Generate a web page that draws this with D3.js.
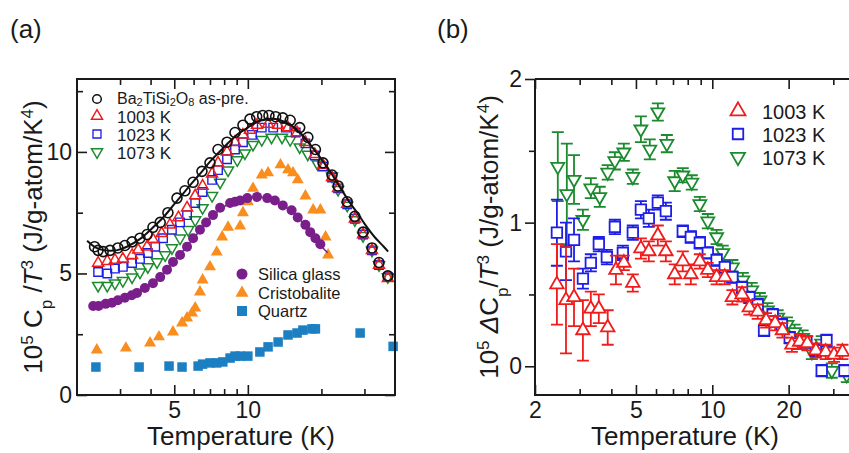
<!DOCTYPE html>
<html><head><meta charset="utf-8">
<script src="https://cdn.jsdelivr.net/npm/d3@7"></script>
<style>
body{margin:0;background:#fff}
svg{display:block}
text{white-space:pre}
</style></head><body>
<svg id="c" width="849" height="453"></svg>
<script>
// ---------- Panel (a) data : [T (K), 1e5 Cp/T^3] ----------
const asPre = [[2.36,6.1],[2.44,5.95],[2.56,5.9],[2.73,5.95],[2.94,6.05],[3.14,6.15],[3.36,6.3],[3.62,6.45],[3.87,6.6],[4.09,6.9],[4.38,7.1],[4.71,7.5],[5.13,8.1],[5.53,8.4],[5.97,8.75],[6.49,9.2],[7.0,9.55],[7.55,10.1],[8.22,10.4],[8.86,10.8],[9.55,11.1],[10.2,11.35],[10.87,11.45],[11.5,11.5],[12.2,11.5],[13.0,11.45],[13.9,11.4],[14.9,11.3],[16.3,11.0],[17.6,10.6],[18.9,10.1],[20.3,9.55],[22.1,9.05],[23.4,8.6],[25.5,7.95],[27.4,7.35],[29.6,6.7],[32.2,6.05],[34.4,5.45],[37.4,4.9]];
const asPreFit = [[2.2,6.35],[2.4,6.05],[2.6,5.95],[2.9,5.95],[3.2,6.1],[3.6,6.4],[4.0,6.8],[4.5,7.3],[5.0,7.85],[5.5,8.35],[6.0,8.8],[6.5,9.2],[7.0,9.6],[8.0,10.2],[9.0,10.7],[10.0,11.0],[11.0,11.25],[12.0,11.35],[13.0,11.35],[14.0,11.25],[15.0,11.1],[16.5,10.75],[18.0,10.3],[20.0,9.7],[22.0,9.1],[24.0,8.5],[26.0,7.95],[28.0,7.5],[30.0,7.05],[33.0,6.5],[36.0,6.1],[37.5,5.9]];
const a1003 = [[2.44,5.43],[2.66,5.5],[2.86,5.55],[3.08,5.6],[3.36,5.75],[3.56,5.97],[3.87,6.1],[4.09,6.4],[4.44,6.65],[4.8,7.0],[5.2,7.3],[5.64,7.7],[6.09,8.2],[6.53,8.6],[7.14,9.1],[7.55,9.55],[8.22,10.0],[8.86,10.4],[9.55,10.7],[10.2,10.9],[10.9,11.1],[12.1,11.15],[13.3,11.1],[14.6,11.0],[15.9,10.8],[17.2,10.4],[18.8,9.9],[20.3,9.45],[22.1,8.95],[23.4,8.5],[25.5,7.85],[27.4,7.25],[29.6,6.6],[32.2,5.95],[34.4,5.35],[37.4,4.8]];
const a1023 = [[2.44,5.06],[2.66,5.0],[2.86,5.2],[3.08,5.27],[3.36,5.43],[3.62,5.6],[3.9,5.84],[4.18,6.1],[4.5,6.45],[4.89,6.8],[5.28,7.1],[5.64,7.4],[6.09,7.9],[6.53,8.35],[7.14,8.85],[7.55,9.25],[8.22,9.7],[8.86,10.1],[9.55,10.4],[10.4,10.7],[11.4,11.0],[12.7,11.0],[14.3,11.0],[15.7,10.8],[17.2,10.35],[18.8,9.85],[20.3,9.4],[22.1,8.95],[23.4,8.5],[25.5,7.85],[27.4,7.25],[29.6,6.6],[32.2,5.95],[34.4,5.35],[37.4,4.85]];
const a1073 = [[2.44,4.5],[2.66,4.5],[2.86,4.6],[3.08,4.7],[3.36,4.85],[3.62,5.05],[3.9,5.27],[4.25,5.47],[4.59,5.76],[4.89,6.05],[5.28,6.45],[5.7,6.8],[6.09,7.2],[6.53,7.7],[7.14,8.2],[7.7,8.75],[8.3,9.25],[9.05,9.67],[9.73,9.95],[10.5,10.3],[11.4,10.5],[12.5,10.6],[13.8,10.6],[14.9,10.5],[16.3,10.2],[17.6,9.9],[19.3,9.5],[22.1,9.0],[23.4,8.45],[25.5,7.8],[27.4,7.2],[29.6,6.55],[32.2,5.95],[34.4,5.35],[37.4,4.86]];
const silica = [[2.33,3.66],[2.45,3.66],[2.62,3.75],[2.78,3.8],[2.94,3.9],[3.14,4.0],[3.35,4.1],[3.52,4.2],[3.79,4.4],[4.09,4.6],[4.38,4.85],[4.67,5.15],[4.94,5.47],[5.28,5.76],[5.64,6.1],[5.97,6.45],[6.37,6.8],[6.75,7.1],[7.2,7.4],[7.7,7.7],[8.46,7.9],[8.86,7.95],[9.3,8.0],[9.95,8.1],[10.9,8.15],[12.0,8.1],[12.9,8.0],[13.9,7.8],[15.1,7.6],[16.0,7.3],[17.2,7.0],[18.0,6.7],[18.9,6.45],[19.8,6.2]];
const silicaFit = [[2.25,3.62],[2.5,3.66],[3,3.92],[3.5,4.22],[4,4.55],[4.5,5.0],[5,5.5],[5.5,6.0],[6,6.45],[7,7.25],[8,7.75],[9,8.0],[10,8.12],[11,8.15],[12,8.1],[13,7.98],[14,7.8],[15,7.57],[16,7.3],[17,7.03],[18,6.72],[19,6.42],[20,6.12],[21.2,5.85]];
const cristobalite = [[2.41,1.85],[3.17,1.93],[3.98,2.14],[4.33,2.39],[4.94,2.59],[5.38,2.96],[5.64,3.17],[5.91,3.37],[6.09,3.58],[6.37,4.24],[6.53,4.73],[7.0,5.27],[7.46,5.88],[7.85,6.5],[8.3,6.9],[9.3,6.95],[9.55,7.5],[10.0,7.95],[10.5,8.5],[11.4,9.05],[12.1,9.14],[13.6,9.47],[14.6,9.26],[15.3,9.14],[16.0,8.85],[17.2,8.19],[18.5,7.61],[19.8,7.61],[20.8,6.5],[21.3,5.76]];
const quartz = [[2.39,1.15],[3.59,1.15],[4.76,1.19],[5.38,1.15],[6.26,1.19],[6.53,1.27],[7.0,1.32],[7.46,1.32],[7.9,1.36],[8.46,1.52],[8.86,1.6],[9.3,1.6],[10.0,1.6],[11.2,1.77],[12.1,1.98],[13.3,2.18],[14.6,2.47],[15.9,2.55],[16.8,2.67],[18.3,2.72],[18.9,2.72],[28.8,2.55],[39.3,2.0]];

// ---------- Panel (b) data : [T (K), 1e5 dCp/T^3, error] ----------
const b1073 = [[2.46,1.39,0.24],[2.67,1.2,0.35],[2.85,1.3,0.17],[3.09,1.02,0.07],[3.32,1.24,0.07],[3.6,1.18,0.07],[3.87,1.35,0.05],[4.13,1.43,0.06],[4.48,1.49,0.06],[4.86,1.32,0.05],[5.23,1.65,0.09],[5.67,1.51,0.07],[6.1,1.77,0.06],[6.62,1.55,0.06],[7.11,1.29,0.07],[7.65,1.33,0.05],[8.3,1.28,0.05],[8.93,1.13,0.05],[9.6,1.01,0.05],[10.4,0.9,0.05],[11.0,0.79,0.05],[12.0,0.69,0.05],[13.2,0.6,0.05],[14.3,0.53,0.05],[15.4,0.46,0.05],[16.5,0.39,0.05],[18.1,0.34,0.05],[19.7,0.29,0.05],[21.1,0.24,0.05],[22.7,0.2,0.05],[24.7,0.1,0.05],[27.0,0.16,0.05],[29.6,-0.03,0.05],[33.9,-0.06,0.05]];
const b1023 = [[2.44,0.93,0.23],[2.65,0.8,0.2],[2.85,0.88,0.15],[3.09,0.61,0.07],[3.32,0.72,0.06],[3.57,0.85,0.05],[3.84,0.76,0.05],[4.13,0.97,0.05],[4.44,0.79,0.05],[4.86,0.93,0.05],[5.23,1.09,0.06],[5.62,1.03,0.06],[6.1,1.14,0.05],[6.56,1.08,0.06],[7.65,0.94,0.04],[8.23,0.9,0.04],[8.93,0.86,0.04],[9.6,0.79,0.04],[10.4,0.74,0.04],[11.2,0.69,0.04],[12.0,0.62,0.04],[13.1,0.55,0.04],[14.0,0.48,0.04],[15.1,0.43,0.04],[16.0,0.25,0.04],[17.3,0.36,0.04],[18.8,0.29,0.04],[20.2,0.2,0.04],[21.7,0.16,0.04],[23.5,0.17,0.04],[25.6,0.11,0.04],[27.0,-0.03,0.04],[28.2,0.18,0.04],[33.2,-0.03,0.04]];
const b1003 = [[2.44,0.57,0.28],[2.65,0.46,0.37],[2.85,0.48,0.2],[3.09,0.25,0.21],[3.32,0.4,0.12],[3.57,0.4,0.1],[3.87,0.27,0.12],[4.17,0.67,0.1],[4.48,0.72,0.05],[4.86,0.58,0.06],[5.23,0.82,0.07],[5.62,0.8,0.07],[6.1,0.91,0.07],[6.56,0.8,0.07],[7.11,0.64,0.07],[7.65,0.73,0.07],[8.23,0.64,0.07],[8.93,0.73,0.05],[9.6,0.67,0.05],[10.4,0.62,0.05],[11.2,0.62,0.05],[12.0,0.48,0.05],[13.1,0.5,0.05],[14.0,0.41,0.05],[15.1,0.38,0.05],[16.3,0.32,0.05],[17.7,0.3,0.05],[18.9,0.25,0.05],[20.6,0.15,0.05],[22.1,0.17,0.05],[23.7,0.16,0.05],[25.6,0.11,0.05],[28.0,0.1,0.05],[30.2,0.08,0.05],[32.6,0.1,0.05]];

// ---------- ticks ----------
const aXMajor = [5, 10];
const aXMinor = [3, 4, 6, 7, 8, 9, 20, 30];
const aYMajor = [0, 5, 10];
const aYMinor = [2.5, 7.5, 12.5];
const bXMajor = [2, 5, 10, 20];
const bXMinor = [3, 4, 6, 7, 8, 9, 30];
const bYMajor = [0, 1, 2];
const bYMinor = [0.5, 1.5];

// ---------- styles ----------
const FONT = '"Liberation Sans", Arial, Helvetica, sans-serif';
const INK = "#1a1a1a";
const C = {black:"#111", red:"#f01c1c", blue:"#1e1ee8", green:"#1c8a2e", purple:"#7a1e8c", orange:"#f98d1e", quartz:"#1c7fc2"};

const svg = d3.select("#c").attr("font-family", FONT);

const xa = d3.scaleLog().domain([2, 40]).range([77, 395]);
const ya = d3.scaleLinear().domain([0, 13]).range([395, 79]);
const xb = d3.scaleLog().domain([2, 40]).range([535, 865]);
const yb = d3.scaleLinear().domain([-0.2, 2]).range([395, 79]);

function addAxis(orient, scale, pos, values, size, labels, pad, fs) {
  const mk = {bottom:d3.axisBottom, top:d3.axisTop, left:d3.axisLeft, right:d3.axisRight}[orient];
  const gen = mk(scale).tickValues(values).tickSize(size).tickPadding(pad || 0)
    .tickFormat(labels ? d3.format("~g") : () => "");
  const tr = (orient === "bottom" || orient === "top") ? `translate(0,${pos})` : `translate(${pos},0)`;
  const g = svg.append("g").attr("transform", tr).call(gen);
  g.select(".domain").remove();
  g.attr("font-family", FONT).attr("font-size", fs || 23).attr("color", INK);
  g.selectAll(".tick line").attr("stroke-width", 1.6);
  return g;
}

// symbol paths
const triUp = s => { const h = s * Math.sqrt(3) / 2; return `M0,${-2*h/3}L${s/2},${h/3}L${-s/2},${h/3}Z`; };
const triDn = s => { const h = s * Math.sqrt(3) / 2; return `M0,${2*h/3}L${s/2},${-h/3}L${-s/2},${-h/3}Z`; };
const sq = s => `M${-s/2},${-s/2}h${s}v${s}h${-s}Z`;
const circ = r => `M${r},0A${r},${r} 0 1,1 ${-r},0A${r},${r} 0 1,1 ${r},0Z`;

function marks(data, x, y, path, stroke, fill, sw) {
  svg.append("g").selectAll("path").data(data).join("path")
    .attr("transform", d => `translate(${x(d[0])},${y(d[1])})`)
    .attr("d", path)
    .attr("stroke", stroke).attr("fill", fill).attr("stroke-width", sw);
}
function errbars(data, x, y, color, cap) {
  const g = svg.append("g").attr("stroke", color).attr("stroke-width", 1.8).attr("fill", "none");
  g.selectAll("path").data(data).join("path")
    .attr("d", d => {
      const px = x(d[0]), y0 = y(d[1] - d[2]), y1 = y(d[1] + d[2]);
      return `M${px},${y0}V${y1}M${px-cap/2},${y0}h${cap}M${px-cap/2},${y1}h${cap}`;
    });
}

// ================= Panel (a) =================
addAxis("bottom", xa, 395, aXMajor, -10, true, 7);
addAxis("bottom", xa, 395, aXMinor, -6, false);
addAxis("top", xa, 79, aXMajor, -10, false);
addAxis("top", xa, 79, aXMinor, -6, false);
addAxis("left", ya, 77, aYMajor, -10, true, 5);
addAxis("left", ya, 77, aYMinor, -6, false);
addAxis("right", ya, 395, aYMajor, -10, false);
addAxis("right", ya, 395, aYMinor, -6, false);

const lineA = d3.line().x(d => xa(d[0])).y(d => ya(d[1])).curve(d3.curveCatmullRom);

marks(quartz, xa, ya, sq(9.5), "none", C.quartz, 0);
marks(cristobalite, xa, ya, triUp(12), "none", C.orange, 0);
svg.append("path").datum(silicaFit).attr("d", lineA).attr("fill", "none").attr("stroke", C.purple).attr("stroke-width", 1.5);
marks(silica, xa, ya, circ(5), "none", C.purple, 0);
marks(a1073, xa, ya, triDn(11), C.green, "none", 1.5);
marks(a1023, xa, ya, sq(8.5), C.blue, "none", 1.4);
marks(a1003, xa, ya, triUp(11), C.red, "none", 1.5);
marks(asPre, xa, ya, circ(5), C.black, "none", 1.6);
svg.append("path").datum(asPreFit).attr("d", lineA).attr("fill", "none").attr("stroke", C.black).attr("stroke-width", 2);

svg.append("rect").attr("x", 77).attr("y", 79).attr("width", 318).attr("height", 316)
  .attr("fill", "none").attr("stroke", INK).attr("stroke-width", 2);

// legend (a) upper
const legA = [
  {p: circ(4.3), c: C.black, f: "none", sw: 1.5, y: 99},
  {p: triUp(11), c: C.red, f: "none", sw: 1.5, y: 116},
  {p: sq(8), c: C.blue, f: "none", sw: 1.3, y: 134},
  {p: triDn(11), c: C.green, f: "none", sw: 1.5, y: 152}
];
legA.forEach(d => svg.append("path").attr("transform", `translate(97,${d.y})`).attr("d", d.p)
  .attr("stroke", d.c).attr("fill", d.f).attr("stroke-width", d.sw));
{
  const t = svg.append("text").attr("x", 117).attr("y", 104).attr("font-size", 16).attr("fill", INK);
  t.append("tspan").text("Ba");
  t.append("tspan").attr("dy", 2).attr("font-size", 11).text("2");
  t.append("tspan").attr("dy", -2).text("TiSi");
  t.append("tspan").attr("dy", 2).attr("font-size", 11).text("2");
  t.append("tspan").attr("dy", -2).text("O");
  t.append("tspan").attr("dy", 2).attr("font-size", 11).text("8");
  t.append("tspan").attr("dy", -2).text(" as-pre.");
}
["1003 K", "1023 K", "1073 K"].forEach((s, i) =>
  svg.append("text").attr("x", 117).attr("y", 122.5 + i * 18).attr("font-size", 16)
    .attr("textLength", 54).attr("lengthAdjust", "spacingAndGlyphs").attr("fill", INK).text(s));

// legend (a) lower
const legA2 = [
  {p: circ(5.5), c: C.purple, y: 274, s: "Silica glass"},
  {p: triUp(13), c: C.orange, y: 293, s: "Cristobalite"},
  {p: sq(10), c: C.quartz, y: 311, s: "Quartz"}
];
legA2.forEach(d => {
  svg.append("path").attr("transform", `translate(242,${d.y})`).attr("d", d.p).attr("fill", d.c);
  svg.append("text").attr("x", 258).attr("y", d.y + 6).attr("font-size", 16.5).attr("fill", INK).text(d.s);
});

// axis titles (a)
svg.append("text").attr("x", 241).attr("y", 445).attr("text-anchor", "middle")
  .attr("font-size", 26).attr("fill", INK).text("Temperature (K)");
{
  const t = svg.append("text").attr("transform", "translate(42,237) rotate(-90)")
    .attr("text-anchor", "middle").attr("font-size", 26).attr("fill", INK);
  t.append("tspan").text("10");
  t.append("tspan").attr("baseline-shift", "super").attr("font-size", 17).text("5");
  t.append("tspan").text(" C");
  t.append("tspan").attr("baseline-shift", "sub").attr("font-size", 17).text("p");
  t.append("tspan").text(" /");
  t.append("tspan").attr("font-style", "italic").text("T");
  t.append("tspan").attr("baseline-shift", "super").attr("font-size", 17).text("3");
  t.append("tspan").text(" (J/g-atom/K");
  t.append("tspan").attr("baseline-shift", "super").attr("font-size", 17).text("4");
  t.append("tspan").text(")");
}
svg.append("text").attr("x", 10).attr("y", 38).attr("font-size", 26).attr("fill", INK).text("(a)");

// ================= Panel (b) =================
addAxis("bottom", xb, 395, bXMajor, -10, true, 7);
addAxis("bottom", xb, 395, bXMinor, -6, false);
addAxis("top", xb, 79, bXMajor, -10, false);
addAxis("top", xb, 79, bXMinor, -6, false);
addAxis("left", yb, 535, bYMajor, 10, true, 3);
addAxis("left", yb, 535, bYMinor, 6, false);

errbars(b1073, xb, yb, C.green, 12);
marks(b1073, xb, yb, triDn(13), C.green, "#fff", 1.8);
errbars(b1023, xb, yb, C.blue, 12);
marks(b1023, xb, yb, sq(10.5), C.blue, "#fff", 1.8);
errbars(b1003, xb, yb, C.red, 12);
marks(b1003, xb, yb, triUp(13.5), C.red, "#fff", 1.8);

svg.append("path").attr("d", "M535,79H870M535,79V395H870")
  .attr("fill", "none").attr("stroke", INK).attr("stroke-width", 2);

// legend (b)
const legB = [
  {p: triUp(15), c: C.red, y: 111, s: "1003 K"},
  {p: sq(10.5), c: C.blue, y: 134, s: "1023 K"},
  {p: triDn(14), c: C.green, y: 157, s: "1073 K"}
];
legB.forEach(d => {
  svg.append("path").attr("transform", `translate(738,${d.y})`).attr("d", d.p)
    .attr("stroke", d.c).attr("fill", "none").attr("stroke-width", 1.8);
  svg.append("text").attr("x", 762).attr("y", d.y + 7.5).attr("font-size", 20).attr("fill", INK).text(d.s);
});

// axis titles (b)
svg.append("text").attr("x", 685).attr("y", 445).attr("text-anchor", "middle")
  .attr("font-size", 26).attr("fill", INK).text("Temperature (K)");
{
  const t = svg.append("text").attr("transform", "translate(498,237) rotate(-90)")
    .attr("text-anchor", "middle").attr("font-size", 26).attr("fill", INK);
  t.append("tspan").text("10");
  t.append("tspan").attr("baseline-shift", "super").attr("font-size", 17).text("5");
  t.append("tspan").text(" ");
  t.append("tspan").attr("font-style", "italic").text("\u0394");
  t.append("tspan").text("C");
  t.append("tspan").attr("baseline-shift", "sub").attr("font-size", 17).text("p");
  t.append("tspan").text("/");
  t.append("tspan").attr("font-style", "italic").text("T");
  t.append("tspan").attr("baseline-shift", "super").attr("font-size", 17).text("3");
  t.append("tspan").text(" (J/g-atom/K");
  t.append("tspan").attr("baseline-shift", "super").attr("font-size", 17).text("4");
  t.append("tspan").text(")");
}
svg.append("text").attr("x", 437).attr("y", 38).attr("font-size", 26).attr("fill", INK).text("(b)");
</script>
</body></html>
